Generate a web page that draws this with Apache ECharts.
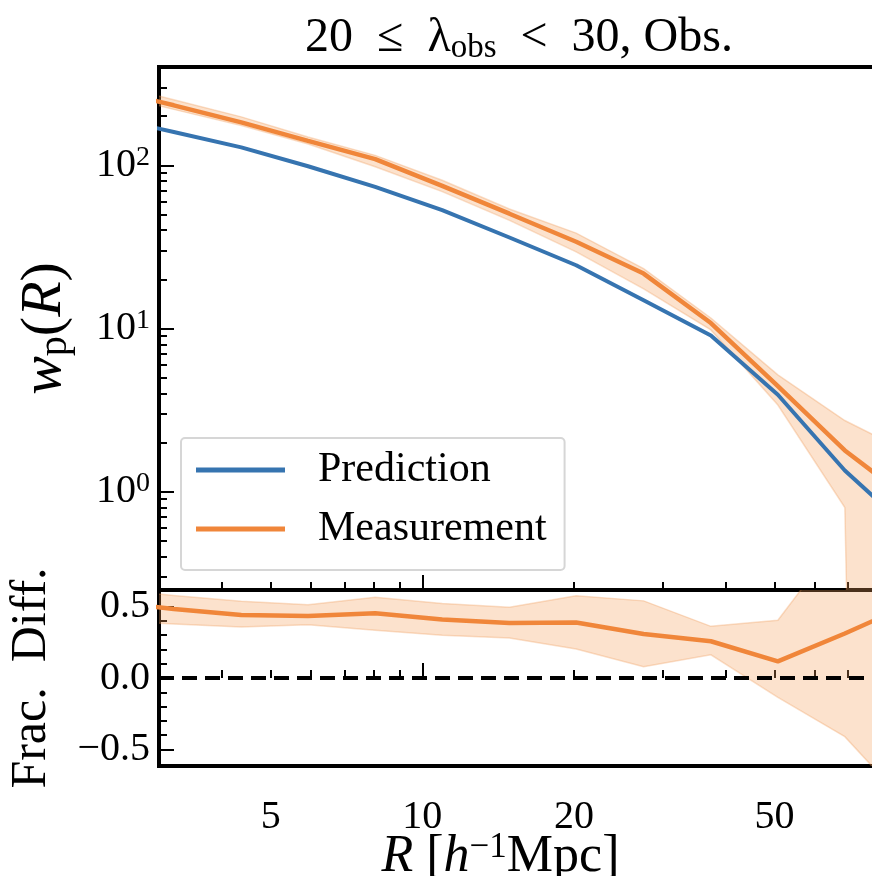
<!DOCTYPE html>
<html><head><meta charset="utf-8">
<script src="https://cdn.jsdelivr.net/npm/echarts@6/dist/echarts.min.js"></script>
<style>html,body{margin:0;padding:0;background:#fff}#c{width:872px;height:876px}</style>
</head><body><div id="c"></div>
<script>
// ---- data ----
const R = [2.36, 3.21, 4.37, 5.93, 8.06, 10.95, 14.89, 20.2, 27.5, 37.4, 50.8, 69.0, 93.8];
const prediction = [198, 160, 128.8, 98.6, 73.8, 53.1, 36.1, 24.4, 14.9, 9.05, 3.93, 1.35, 0.57];
const measurement = [293, 233, 183, 141, 109, 74.8, 50.5, 34.0, 21.7, 10.8, 4.43, 1.79, 0.87];
const measLow = [277, 220, 175, 135, 98, 69, 46, 29.5, 17.5, 9.8, 3.4, 0.8, 1e-20];
const measHigh = [321, 252, 198, 149, 115, 81, 54, 38.4, 23.3, 11.6, 5.2, 2.73, 1.7];
const fracDiff = [0.53, 0.483, 0.441, 0.434, 0.452, 0.409, 0.385, 0.388, 0.307, 0.257, 0.116, 0.311, 0.52];
const fracLow = [0.40, 0.377, 0.356, 0.372, 0.333, 0.298, 0.280, 0.202, 0.079, 0.162, -0.135, -0.41, -0.92];
const fracHigh = [0.62, 0.577, 0.536, 0.512, 0.565, 0.521, 0.494, 0.574, 0.539, 0.361, 0.404, 1.02, 2.0];

// ---- ticks ----
const xMajorTicks = [10, 100];
const xMinorTicks = [4, 5, 6, 7, 8, 9, 20, 30, 40, 50, 60, 70, 80, 90];
const xLabelValues = [5, 10, 20, 50];
const xLabels = ['5', '10', '20', '50'];
const yTopMajorTicks = [1, 10, 100];
const yTopMinorTicks = [0.3, 0.4, 0.5, 0.6, 0.7, 0.8, 0.9, 2, 3, 4, 5, 6, 7, 8, 9, 20, 30, 40, 50, 60, 70, 80, 90, 200, 300, 400];
const yTopLabels = ['10{sup|0}', '10{sup|1}', '10{sup|2}'];
const fracMajorTicks = [-0.5, 0, 0.5];
const fracMinorTicks = [-0.4, -0.3, -0.2, -0.1, 0.1, 0.2, 0.3, 0.4];
const fracLabels = ['\u22120.5', '0.0', '0.5'];

const FONT = 'Liberation Serif';
const BLUE = '#3674b0';
const ORANGE = '#f0863a';
const BAND = 'rgba(245,160,90,0.30)';
const BAND_EDGE = 'rgba(240,150,80,0.30)';

function pickLabel(values, labels) {
  return function (v) {
    let best = 0, bd = Infinity;
    for (let i = 0; i < values.length; i++) {
      const d = Math.abs(values[i] - v) / Math.max(1e-9, Math.abs(values[i]) || 1);
      if (d < bd) { bd = d; best = i; }
    }
    return labels[best];
  };
}

const tickStyle = { color: '#000', width: 2 };

function axisPair(base, minorVals, majorVals, labelCfg, nameCfg) {
  const a = Object.assign({}, base, {
    axisLine: { show: false },
    splitLine: { show: false },
    nameMoveOverlap: false,
    axisTick: { show: true, inside: true, length: 8, lineStyle: tickStyle, customValues: minorVals },
    axisLabel: labelCfg ? labelCfg : { show: false }
  }, nameCfg || {});
  const b = Object.assign({}, base, {
    axisLine: { show: false },
    splitLine: { show: false },
    axisTick: { show: true, inside: true, length: 15, lineStyle: tickStyle, customValues: majorVals },
    axisLabel: { show: false }
  });
  return [a, b];
}

const xTopBase = { type: 'log', logBase: 10, gridIndex: 0, min: 3, max: 100, position: 'bottom' };
const xBotBase = { type: 'log', logBase: 10, gridIndex: 1, min: 3, max: 100, position: 'bottom' };
const yTopBase = { type: 'log', logBase: 10, gridIndex: 0, min: 0.25, max: 400, position: 'left' };
const yBotBase = { type: 'value', gridIndex: 1, min: -0.615, max: 0.615, position: 'left' };

const xAxes = [].concat(
  axisPair(xTopBase, xMinorTicks, xMajorTicks, null, null),
  axisPair(xBotBase, xMinorTicks, xMajorTicks, {
    show: true, customValues: xLabelValues, formatter: pickLabel(xLabelValues, xLabels),
    margin: 31, color: '#000', fontFamily: FONT, fontSize: 40
  }, {
    name: '{i|R} [{i|h}{sup|\u22121}Mpc]', nameLocation: 'middle', nameGap: 64,
    nameTextStyle: {
      fontFamily: FONT, fontSize: 52, color: '#000', lineHeight: 54, padding: [0, 84, 0, 0],
      rich: { i: { fontStyle: 'italic', fontFamily: FONT, fontSize: 52, lineHeight: 54 },
              sup: { fontFamily: FONT, fontSize: 35, lineHeight: 30, verticalAlign: 'top' } }
    }
  })
);

const yAxes = [].concat(
  axisPair(yTopBase, yTopMinorTicks, yTopMajorTicks, {
    show: true, customValues: yTopMajorTicks, formatter: pickLabel(yTopMajorTicks, yTopLabels),
    margin: 9, color: '#000', fontFamily: FONT, fontSize: 40, lineHeight: 44,
    rich: { sup: { fontFamily: FONT, fontSize: 28, lineHeight: 26, verticalAlign: 'top' } }
  }, {
    name: '{i|w}{sub|p}({i|R})', nameLocation: 'middle', nameGap: 84, nameRotate: 90,
    nameTextStyle: {
      fontFamily: FONT, fontSize: 58, color: '#000', lineHeight: 60,
      rich: { i: { fontStyle: 'italic', fontFamily: FONT, fontSize: 58, lineHeight: 60 },
              sub: { fontFamily: FONT, fontSize: 40, lineHeight: 36, verticalAlign: 'bottom' } }
    }
  }),
  axisPair(yBotBase, fracMinorTicks, fracMajorTicks, {
    show: true, customValues: fracMajorTicks, formatter: pickLabel(fracMajorTicks, fracLabels),
    margin: 9, color: '#000', fontFamily: FONT, fontSize: 40
  }, {
    name: 'Frac.  Diff.', nameLocation: 'middle', nameGap: 100, nameRotate: 90,
    nameTextStyle: { fontFamily: FONT, fontSize: 50, color: '#000', lineHeight: 54 }
  })
);

function bandRenderer(lowArr, highArr) {
  return function (params, api) {
    if (params.dataIndex !== 0) return null;
    const pts = [];
    for (let i = 0; i < R.length; i++) pts.push(api.coord([R[i], highArr[i]]));
    for (let i = R.length - 1; i >= 0; i--) pts.push(api.coord([R[i], lowArr[i]]));
    const cs = params.coordSys;
    return {
      type: 'polygon',
      shape: { points: pts },
      style: { fill: BAND, stroke: BAND_EDGE, lineWidth: 1.5 },
      clipPath: { type: 'rect', shape: { x: cs.x, y: cs.y, width: cs.width, height: cs.height } }
    };
  };
}

const gridCommon = { show: true, borderColor: '#000', borderWidth: 4, backgroundColor: 'transparent',
  containLabel: false, outerBoundsMode: 'none' };

const chart = echarts.init(document.getElementById('c'), null, { renderer: 'canvas' });
chart.setOption({
  backgroundColor: '#fff',
  animation: false,
  title: {
    text: '20\u2002\u2264\u2002\u03bb{sub|obs}\u2002<\u200230, Obs.',
    left: 514, top: 6, textAlign: 'center',
    textStyle: {
      fontFamily: FONT, fontSize: 48, fontWeight: 'normal', color: '#000', lineHeight: 54,
      rich: { sub: { fontFamily: FONT, fontSize: 33, lineHeight: 30, verticalAlign: 'bottom' } }
    }
  },
  grid: [
    Object.assign({ left: 159, top: 67, width: 767, height: 523 }, gridCommon),
    Object.assign({ left: 159, top: 590, width: 767, height: 176 }, gridCommon)
  ],
  legend: {
    data: ['Prediction', 'Measurement'],
    orient: 'vertical', left: 181, top: 438,
    icon: 'rect', itemWidth: 89, itemHeight: 5, itemGap: 11,
    padding: [8, 18, 17, 15],
    backgroundColor: '#fff', borderColor: '#d6d6d6', borderWidth: 2, borderRadius: 4,
    selectedMode: false,
    textStyle: { fontFamily: FONT, fontSize: 42, color: '#000', lineHeight: 48, padding: [0, 0, 0, 28] }
  },
  xAxis: xAxes,
  yAxis: yAxes,
  series: [
    { type: 'custom', name: 'band', xAxisIndex: 0, yAxisIndex: 0, renderItem: bandRenderer(measLow, measHigh),
      data: [[R[0], measHigh[0]]], silent: true, z: 1 },
    { type: 'line', name: 'Prediction', xAxisIndex: 0, yAxisIndex: 0, color: BLUE, showSymbol: false,
      lineStyle: { width: 4, color: BLUE }, data: R.map((r, i) => [r, prediction[i]]), z: 3 },
    { type: 'line', name: 'Measurement', xAxisIndex: 0, yAxisIndex: 0, color: ORANGE, showSymbol: false,
      lineStyle: { width: 4.5, color: ORANGE }, data: R.map((r, i) => [r, measurement[i]]), z: 4 },
    { type: 'custom', name: 'fracband', xAxisIndex: 2, yAxisIndex: 2, renderItem: bandRenderer(fracLow, fracHigh),
      data: [[R[0], fracHigh[0]]], silent: true, z: 1 },
    { type: 'line', name: 'Frac', xAxisIndex: 2, yAxisIndex: 2, color: ORANGE, showSymbol: false,
      lineStyle: { width: 4.5, color: ORANGE }, data: R.map((r, i) => [r, fracDiff[i]]), z: 4,
      markLine: { silent: true, symbol: 'none', label: { show: false },
        lineStyle: { color: '#000', width: 4, type: [15, 8] }, data: [{ yAxis: 0 }] } }
  ]
});
</script></body></html>
